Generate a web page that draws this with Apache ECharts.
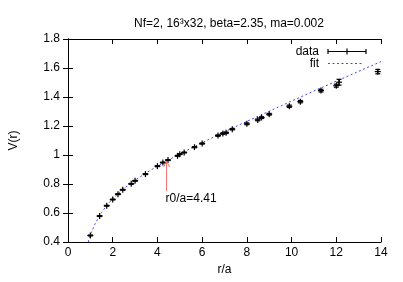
<!DOCTYPE html>
<html>
<head>
<meta charset="utf-8">
<script src="https://cdn.jsdelivr.net/npm/echarts@6/dist/echarts.min.js"></script>
<style>
html,body{margin:0;padding:0;background:#fff;}
#c{width:403px;height:282px;}
</style>
</head>
<body>
<div id="c"></div>
<script>
// Data
var rVals = [1, 1.414, 1.732, 2, 2.236, 2.449, 2.828, 3, 3.464, 4, 4.243, 4.472, 4.899, 5, 5.196, 5.657, 6, 6.708, 6.928, 7.071, 7.348, 8, 8.485, 8.660, 9, 9.899, 10.392, 11.314, 12, 12.124, 13.856];
var vVals = [0.445, 0.579, 0.650, 0.693, 0.730, 0.760, 0.801, 0.822, 0.868, 0.923, 0.948, 0.965, 0.994, 1.006, 1.017, 1.054, 1.079, 1.134, 1.148, 1.153, 1.178, 1.215, 1.242, 1.258, 1.281, 1.336, 1.368, 1.444, 1.478, 1.502, 1.575];
var vErr  = [0.003, 0.003, 0.003, 0.003, 0.003, 0.003, 0.003, 0.003, 0.003, 0.003, 0.003, 0.003, 0.003, 0.003, 0.003, 0.004, 0.004, 0.005, 0.005, 0.005, 0.005, 0.006, 0.006, 0.006, 0.006, 0.008, 0.008, 0.009, 0.010, 0.020, 0.015];
// fit curve
var fitR = [0.907, 0.95, 1.0, 1.05, 1.1, 1.2, 1.3, 1.4, 1.5, 1.75, 2, 2.25, 2.5, 3, 3.5, 4, 4.5, 5, 5.5, 6, 7, 8, 9, 10, 11, 12, 13, 14];
var fitV = [0.400, 0.423, 0.445, 0.466, 0.486, 0.521, 0.551, 0.578, 0.603, 0.655, 0.698, 0.736, 0.769, 0.826, 0.877, 0.923, 0.966, 1.007, 1.046, 1.085, 1.160, 1.232, 1.302, 1.372, 1.441, 1.509, 1.577, 1.644];
// r0 annotation
var r0 = 4.41;
var arrowFromV = 0.751;
var arrowToV = 0.958;
var r0Label = 'r0/a=4.41';
var xTicks = [0, 2, 4, 6, 8, 10, 12, 14];
var yTicks = [0.4, 0.6, 0.8, 1, 1.2, 1.4, 1.6, 1.8];
var titleText = 'Nf=2, 16\u00b3x32, beta=2.35, ma=0.002';
var legendNames = ['data', 'fit'];

var FONT = '"Liberation Sans", Arial, sans-serif';
var FIT_COLOR = '#4646f0';
var chart = echarts.init(document.getElementById('c'), null, {renderer: 'canvas'});

var axisCommon = {
  min: xTicks[0], max: xTicks[xTicks.length - 1], interval: 2,
  axisLine: {show: true, lineStyle: {color: '#000', width: 1}},
  axisTick: {show: true, inside: true, length: 5, lineStyle: {color: '#000', width: 1}},
  splitLine: {show: false}
};

var fitData = fitR.map(function (r, i) { return [r, fitV[i]]; });
var ptData = rVals.map(function (r, i) { return [r, vVals[i], vErr[i]]; });

function errRender(params, api) {
  var x = api.value(0), y = api.value(1), e = api.value(2);
  var p = api.coord([x, y]);
  var t = api.coord([x, y + e]);
  var b = api.coord([x, y - e]);
  var st = {stroke: '#000', lineWidth: 1.2};
  var cap = 2.5, pl = 3;
  return {
    type: 'group',
    children: [
      {type: 'line', shape: {x1: p[0], y1: t[1], x2: p[0], y2: b[1]}, style: st},
      {type: 'line', shape: {x1: p[0] - cap, y1: t[1], x2: p[0] + cap, y2: t[1]}, style: st},
      {type: 'line', shape: {x1: p[0] - cap, y1: b[1], x2: p[0] + cap, y2: b[1]}, style: st},
      {type: 'line', shape: {x1: p[0] - pl, y1: p[1], x2: p[0] + pl, y2: p[1]}, style: st},
      {type: 'line', shape: {x1: p[0], y1: p[1] - pl, x2: p[0], y2: p[1] + pl}, style: st}
    ]
  };
}

function arrowRender(params, api) {
  var x = api.value(0);
  var a = api.coord([x, api.value(1)]);
  var b = api.coord([x, api.value(2)]);
  var st = {stroke: '#f06a6a', lineWidth: 1, fill: null};
  return {
    type: 'group',
    children: [
      {type: 'line', shape: {x1: a[0], y1: a[1], x2: b[0], y2: b[1]}, style: st},
      {type: 'polyline', shape: {points: [[b[0] - 3, b[1] + 6], [b[0], b[1]], [b[0] + 3, b[1] + 6]]}, style: st},
      {type: 'text', style: {x: a[0] - 1, y: a[1] + 8, text: r0Label, fill: '#000', font: '12px ' + FONT, textAlign: 'left', textVerticalAlign: 'middle'}}
    ]
  };
}

chart.setOption({
  animation: false,
  backgroundColor: '#fff',
  textStyle: {fontFamily: FONT},
  title: {
    text: titleText,
    left: 224, top: 13, textAlign: 'center',
    textStyle: {fontSize: 12, fontWeight: 'normal', color: '#000', fontFamily: FONT}
  },
  grid: {left: 67, right: 22, top: 39, bottom: 40, containLabel: false},
  xAxis: [
    Object.assign({}, axisCommon, {
      type: 'value', position: 'bottom',
      name: 'r/a', nameLocation: 'middle', nameGap: 18,
      nameTextStyle: {fontSize: 12, color: '#000', fontFamily: FONT},
      axisLabel: {show: true, margin: 5, fontSize: 12, color: '#000', fontFamily: FONT}
    }),
    Object.assign({}, axisCommon, {
      type: 'value', position: 'top', axisLabel: {show: false}
    })
  ],
  yAxis: [
    Object.assign({}, axisCommon, {
      type: 'value', position: 'left', min: yTicks[0], max: yTicks[yTicks.length - 1], interval: 0.2,
      name: 'V(r)', nameLocation: 'middle', nameGap: 48, nameRotate: 90,
      nameTextStyle: {fontSize: 12, color: '#000', fontFamily: FONT},
      axisLabel: {show: true, margin: 8, fontSize: 12, color: '#000', fontFamily: FONT,
        formatter: function (v) { return String(Math.round(v * 10) / 10); }}
    }),
    Object.assign({}, axisCommon, {
      type: 'value', position: 'right', min: yTicks[0], max: yTicks[yTicks.length - 1], interval: 0.2,
      axisLabel: {show: false}
    })
  ],
  series: [
    {
      name: legendNames[1], type: 'line', data: fitData, xAxisIndex: 0, yAxisIndex: 0,
      smooth: false, showSymbol: false, symbol: 'none',
      lineStyle: {color: FIT_COLOR, width: 1, type: [2, 2.5]}, z: 2
    },
    {
      name: legendNames[0], type: 'custom', data: ptData, xAxisIndex: 0, yAxisIndex: 0,
      renderItem: errRender, z: 3
    },
    {
      type: 'custom', data: [[r0, arrowFromV, arrowToV]], xAxisIndex: 0, yAxisIndex: 0,
      renderItem: arrowRender, z: 4, clip: false
    }
  ],
  graphic: [
    {type: 'text', style: {x: 319, y: 52, text: legendNames[0], fill: '#000', font: '12px ' + FONT, textAlign: 'right', textVerticalAlign: 'middle'}},
    {type: 'line', shape: {x1: 328, y1: 51.5, x2: 366, y2: 51.5}, style: {stroke: '#000', lineWidth: 1.2}},
    {type: 'line', shape: {x1: 328, y1: 49, x2: 328, y2: 54}, style: {stroke: '#000', lineWidth: 1.2}},
    {type: 'line', shape: {x1: 366, y1: 49, x2: 366, y2: 54}, style: {stroke: '#000', lineWidth: 1.2}},
    {type: 'line', shape: {x1: 347, y1: 48.5, x2: 347, y2: 54.5}, style: {stroke: '#000', lineWidth: 1.2}},
    {type: 'text', style: {x: 319, y: 64, text: legendNames[1], fill: '#000', font: '12px ' + FONT, textAlign: 'right', textVerticalAlign: 'middle'}},
    {type: 'line', shape: {x1: 328, y1: 63.5, x2: 364, y2: 63.5}, style: {stroke: FIT_COLOR, lineWidth: 1, lineDash: [2, 2.5]}}
  ]
});
</script>
</body>
</html>
